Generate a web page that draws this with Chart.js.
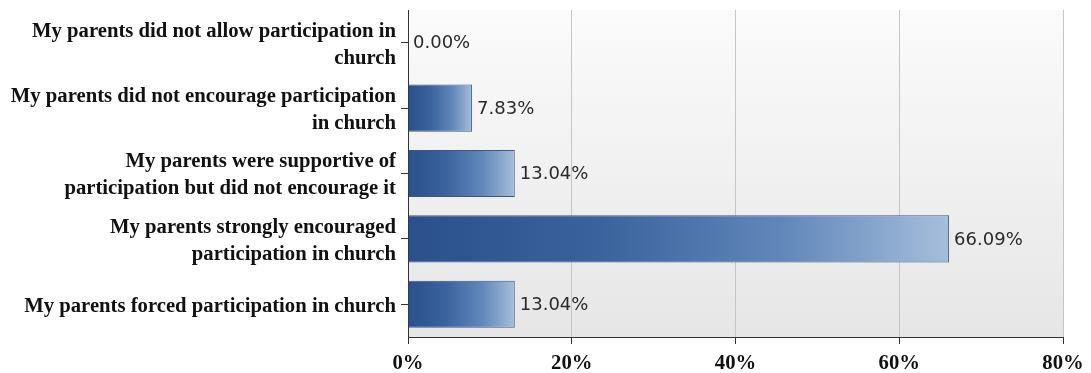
<!DOCTYPE html>
<html lang="en">
<head>
    <meta charset="UTF-8">
    <title>Parents and church participation</title>
    <script src="https://cdn.jsdelivr.net/npm/chart.js"></script>
    <style>
        body { margin: 0; background: #fff; }
        .wrap { width: 1091px; height: 373px; position: relative; }
    </style>
</head>
<body>
    <div class="wrap">
        <canvas id="churchChart"></canvas>
    </div>

    <script>
        // Answer options (multi-line labels as arrays)
        const answers = [
            ['My parents did not allow participation in', 'church'],
            ['My parents did not encourage participation', 'in church'],
            ['My parents were supportive of', 'participation but did not encourage it'],
            ['My parents strongly encouraged', 'participation in church'],
            'My parents forced participation in church'
        ];

        // Share of respondents, %
        const shares = [0.00, 7.83, 13.04, 66.09, 13.04];

        // Ticks on the percent axis
        const percentTicks = [0, 20, 40, 60, 80];

        // Grey fill behind the bars
        const plotBackground = {
            id: 'plotBackground',
            beforeDraw(chart) {
                const { ctx, chartArea: a } = chart;
                const g = ctx.createLinearGradient(0, a.top, 0, a.bottom);
                g.addColorStop(0, '#fbfbfb');
                g.addColorStop(1, '#e6e6e6');
                ctx.save();
                ctx.fillStyle = g;
                ctx.fillRect(a.left, a.top, a.right - a.left, a.bottom - a.top);
                ctx.restore();
            }
        };

        // Percent text to the right of each bar
        const valueLabels = {
            id: 'valueLabels',
            afterDatasetsDraw(chart) {
                const ctx = chart.ctx;
                const meta = chart.getDatasetMeta(0);
                ctx.save();
                ctx.font = '18px "DejaVu Sans"';
                ctx.fillStyle = '#2a2a2a';
                ctx.textAlign = 'left';
                ctx.textBaseline = 'middle';
                meta.data.forEach((bar, i) => {
                    ctx.fillText(shares[i].toFixed(2) + '%', bar.x + 5, bar.y + 1);
                });
                ctx.restore();
            }
        };

        // Each bar shades from dark blue at the axis to light blue at its end
        function barGradient(c) {
            const chart = c.chart;
            if (!chart.chartArea) return '#3a629c';
            const x = chart.scales.x;
            const x0 = x.getPixelForValue(0);
            const x1 = x.getPixelForValue(c.raw);
            if (x1 - x0 < 1) return '#2a4f8a';
            const g = chart.ctx.createLinearGradient(x0, 0, x1, 0);
            g.addColorStop(0, '#2b508b');
            g.addColorStop(0.35, '#3a629c');
            g.addColorStop(0.7, '#6288bb');
            g.addColorStop(1, '#a6bedb');
            return g;
        }

        const serifBold = { family: '"Liberation Serif", "DejaVu Serif", serif', size: 20.7, weight: 'bold' };

        new Chart(document.getElementById('churchChart'), {
            type: 'bar',
            data: {
                labels: answers,
                datasets: [{
                    data: shares,
                    backgroundColor: barGradient,
                    borderColor: '#3b5782',
                    borderWidth: 1,
                    borderSkipped: 'left',
                    barPercentage: 0.72,
                    categoryPercentage: 1
                }]
            },
            options: {
                indexAxis: 'y',
                responsive: true,
                maintainAspectRatio: false,
                animation: false,
                layout: { padding: { top: 10, right: 28, left: 0, bottom: 0 } },
                plugins: {
                    legend: { display: false },
                    tooltip: { enabled: false }
                },
                scales: {
                    x: {
                        min: 0,
                        max: 80,
                        afterBuildTicks(scale) {
                            scale.ticks = percentTicks.map(v => ({ value: v }));
                        },
                        afterFit(scale) { scale.height = 36; },
                        grid: {
                            color: '#c6c6c6',
                            tickColor: '#333',
                            tickLength: 7
                        },
                        border: { color: '#333' },
                        ticks: {
                            padding: 7,
                            color: '#111',
                            font: serifBold,
                            callback: v => v + '%'
                        }
                    },
                    y: {
                        afterFit(scale) {
                            scale.width = 408;
                            scale.paddingTop = 0;
                            scale.paddingBottom = 0;
                        },
                        grid: {
                            offset: false,
                            drawOnChartArea: false,
                            tickColor: '#333',
                            tickLength: 7
                        },
                        border: { color: '#333' },
                        ticks: {
                            padding: 5,
                            labelOffset: 2,
                            color: '#111',
                            font: Object.assign({ lineHeight: 1.3 }, serifBold)
                        }
                    }
                }
            },
            plugins: [plotBackground, valueLabels]
        });
    </script>
</body>
</html>
